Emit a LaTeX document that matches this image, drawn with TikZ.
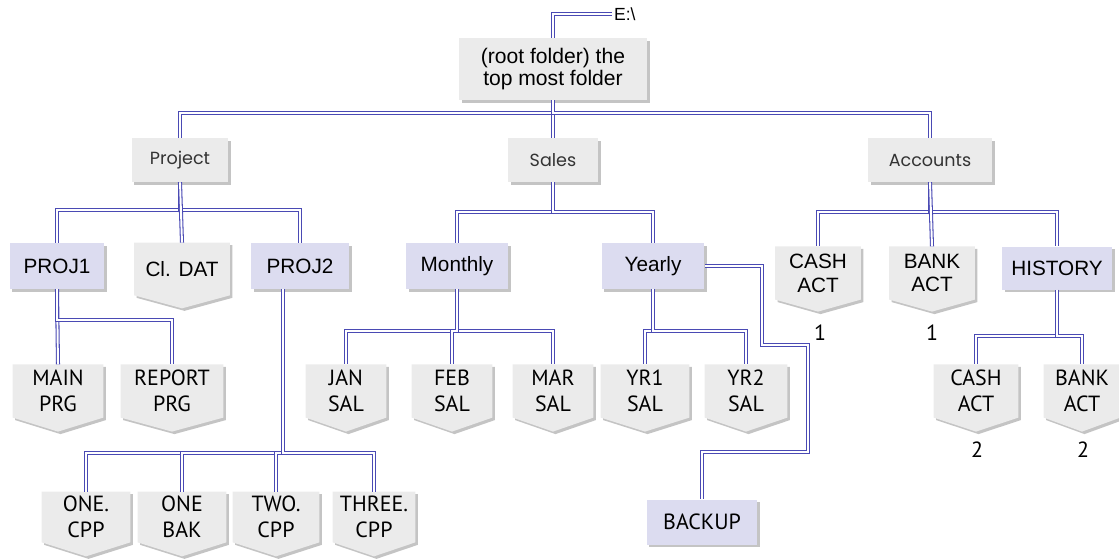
\documentclass[tikz,border=0pt]{standalone}
\usepackage{fontspec}
\setmainfont{Liberation Sans}
\newfontfamily\tahf{Liberation Sans}
\newfontfamily\gillf{PT Sans}
\newfontfamily\geof{Poppins}
\usetikzlibrary{calc,shadows,backgrounds}
\definecolor{fgrey}{HTML}{EBEBEB}
\definecolor{flav}{HTML}{DCDCF0}
\definecolor{lnblue}{HTML}{4A4AB4}
\definecolor{shad}{HTML}{C4C4C4}
\newcommand\filebg[2]{%
 \fill[shad] ([shift={(2.5,2.5)}]#1.north west) -- ([shift={(2.5,2.5)}]#1.north east) -- ([shift={(2.5,2.5)}]#1.south east) -- ($(#1.south)+(2.5,#2+2.5)$) -- ([shift={(2.5,2.5)}]#1.south west) -- cycle;
 \fill[fgrey] (#1.north west) -- (#1.north east) -- (#1.south east) -- ($(#1.south)+(0,#2)$) -- (#1.south west) -- cycle;
}
\tikzset{
 conn/.style={draw=lnblue, double=white, line width=0.6pt, double distance=1.1pt},
 folder/.style={rectangle, fill=fgrey, inner sep=0pt, align=center,
   drop shadow={shadow xshift=1.5pt, shadow yshift=-1.5pt, fill=shad, opacity=1}},
 lavf/.style={folder, fill=flav},
 filenode/.style={rectangle, inner sep=0pt, align=center},
 tah/.style={font=\tahf\fontsize{11.8}{13.5}\selectfont, text=black},
 gill/.style={font=\gillf\fontsize{12.5}{14.7}\selectfont, text=black},
 geo/.style={font=\geof\fontsize{10}{12}\selectfont, text=black!80},
 rowa/.style={minimum height=0.92cm},
 filea/.style={filenode, minimum height=1.05cm},
}
\begin{document}
\begin{tikzpicture}[x=0.02cm,y=-0.02cm]
\useasboundingbox (0,0) rectangle (1119,558);
% root
\node[folder, tah, font=\tahf\fontsize{12}{13}\selectfont, minimum width=3.76cm, minimum height=1.24cm] (root) at (553,69) {(root folder) the\\top most folder};
\node[tah, font=\tahf\fontsize{10}{12}\selectfont, anchor=west, inner sep=1pt] (edrive) at (612,14) {E:\textbackslash};
% level 1
\node[folder, geo, minimum width=1.94cm, minimum height=0.88cm] (project) at (180,160) {Project};
\node[folder, geo, minimum width=1.8cm, minimum height=0.88cm] (sales) at (553,160) {Sales};
\node[folder, geo, minimum width=2.48cm, minimum height=0.88cm] (accounts) at (930,160) {Accounts};
% level 2
\node[lavf, tah, rowa, minimum width=1.9cm] (proj1) at (57,266) {PROJ1};
\node[filea, tah, minimum width=1.9cm, minimum height=1.04cm] (cldat) at (182,269) {Cl. DAT};
\node[lavf, tah, rowa, minimum width=1.96cm] (proj2) at (300,266) {PROJ2};
\node[lavf, tah, rowa, minimum width=2.04cm] (monthly) at (457,266) {Monthly};
\node[lavf, tah, rowa, minimum width=2.06cm] (yearly) at (653,266) {Yearly};
\node[filea, tah, minimum width=1.7cm] (cashA) at (818,273) {CASH\\ACT};
\node[filea, tah, minimum width=1.7cm] (bankA) at (932,273) {BANK\\ACT};
\node[lavf, tah, minimum width=2.2cm, minimum height=0.86cm] (history) at (1057,268) {HISTORY};
\node[gill] (numA) at (820,333) {1};
\node[gill] (numB) at (932,333) {1};
% level 3
\node[filea, gill, minimum width=1.8cm] (main) at (58,391) {MAIN\\PRG};
\node[filea, gill, minimum width=2.04cm] (report) at (172,391) {REPORT\\PRG};
\node[filea, gill, minimum width=1.6cm] (jan) at (346,391) {JAN\\SAL};
\node[filea, gill, minimum width=1.6cm] (feb) at (452,391) {FEB\\SAL};
\node[filea, gill, minimum width=1.6cm] (mar) at (553,391) {MAR\\SAL};
\node[filea, gill, minimum width=1.76cm] (yrA) at (645,391) {YR1\\SAL};
\node[filea, gill, minimum width=1.64cm] (yrB) at (746,391) {YR2\\SAL};
\node[filea, gill, minimum width=1.68cm] (cashB) at (976,391) {CASH\\ACT};
\node[filea, gill, minimum width=1.52cm] (bankB) at (1082,391) {BANK\\ACT};
\node[gill] (numC) at (977,450) {2};
\node[gill] (numD) at (1083,450) {2};
% level 4
\node[filea, gill, minimum width=1.76cm, minimum height=1.0cm] (one) at (86,517) {ONE.\\CPP};
\node[filea, gill, minimum width=1.76cm, minimum height=1.0cm] (bak) at (182,517) {ONE\\BAK};
\node[filea, gill, minimum width=1.72cm, minimum height=1.0cm] (two) at (276,517) {TWO.\\CPP};
\node[filea, gill, minimum width=1.64cm, minimum height=1.0cm] (three) at (374,517) {THREE.\\CPP};
\node[lavf, gill, minimum width=2.22cm, minimum height=0.9cm] (backup) at (702,522) {BACKUP};
% file backgrounds
\begin{pgfonlayer}{background}
\foreach \n/\t in {cldat/13, cashA/12, bankA/12, main/14, report/14, jan/14, feb/14, mar/14, yrA/14, yrB/14, cashB/14, bankB/14, one/14, bak/14, two/14, three/14}{
  \filebg{\n}{\t}
}
\end{pgfonlayer}
% connectors
\draw[conn] (root.north) |- (edrive.west);
\draw[conn] (root.south) -- ++(0,13) -| (project.north);
\draw[conn] (root.south) -- (sales.north);
\draw[conn] (root.south) -- ++(0,13) -| (accounts.north);
\draw[conn] (project.south) -- ++(0,28) -| (proj1.north);
\draw[conn] (project.south) -- ++(0,28) -| (proj2.north);
\draw[conn] (project.south) -- (cldat.north);
\draw[conn] (sales.south) -- ++(0,30) -| (monthly.north);
\draw[conn] (sales.south) -- ++(0,30) -| (yearly.north);
\draw[conn] (accounts.south) -- ++(0,30) -| (cashA.north);
\draw[conn] (accounts.south) -- ++(0,30) -| (history.north);
\draw[conn] (accounts.south) -- (bankA.north);
\draw[conn] (proj1.south) -- (main.north);
\draw[conn] (proj1.south) -- ++(0,31) -| (report.north);
\draw[conn] ($(proj2.south)+(-17,0)$) -- ++(0,164) -| (one.north);
\draw[conn] ($(proj2.south)+(-17,0)$) -- ++(0,164) -| (bak.north);
\draw[conn] ($(proj2.south)+(-17,0)$) -- ++(0,164) -| (two.north);
\draw[conn] ($(proj2.south)+(-17,0)$) -- ++(0,164) -| (three.north);
\draw[conn] (monthly.south) -- ++(0,42) -| (jan.north);
\draw[conn] (monthly.south) -- ++(0,42) -| (mar.north);
\draw[conn] (monthly.south) -- ++(0,42) -| (feb.north);
\draw[conn] (yearly.south) -- ++(0,42) -| (yrA.north);
\draw[conn] (yearly.south) -- ++(0,42) -| (yrB.north);
\draw[conn] (history.south) -- ++(0,46) -| (cashB.north);
\draw[conn] (history.south) -- ++(0,46) -| (bankB.north);
\draw[conn] (yearly.east) -- ++(57,0) -- ++(0,79) -- ++(46,0) -- ++(0,107) -| (backup.north);
\end{tikzpicture}
\end{document}
